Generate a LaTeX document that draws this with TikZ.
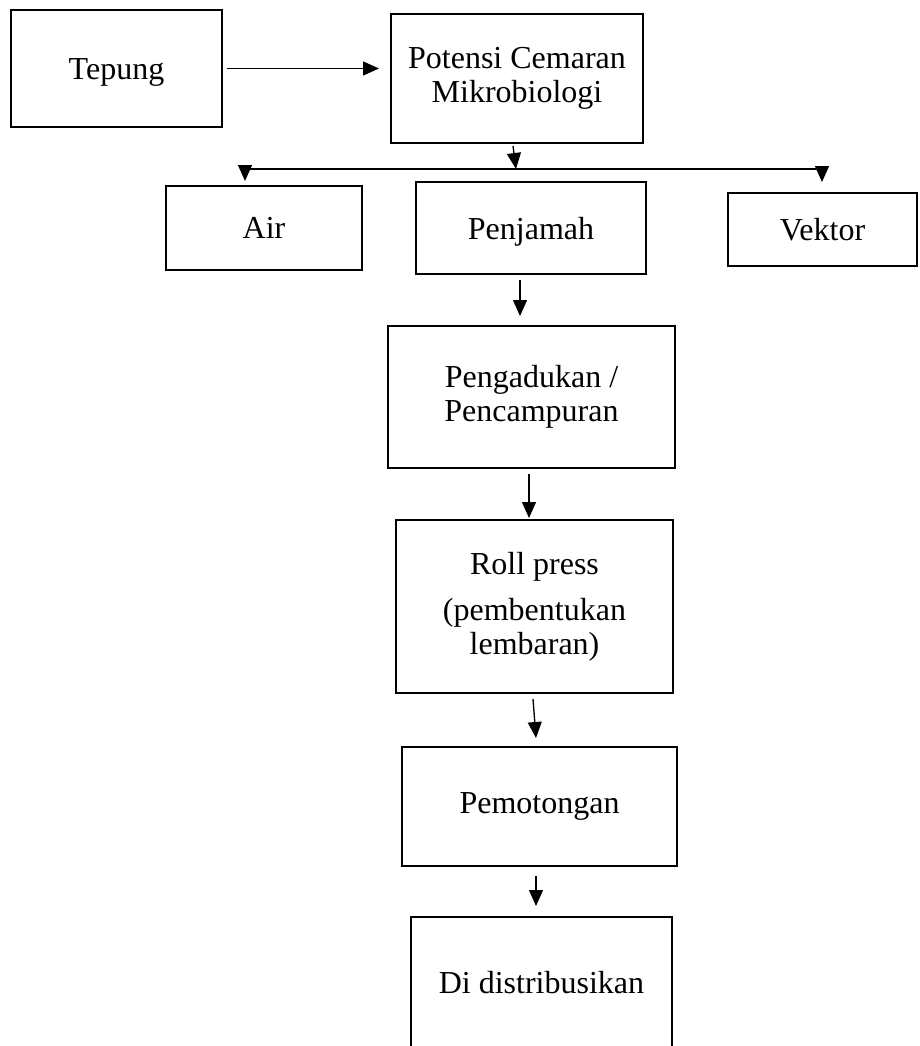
\documentclass[tikz,border=0pt]{standalone}
\usepackage{fontspec}
\setmainfont{Liberation Serif}
\usetikzlibrary{arrows.meta}
\newcommand{\lowertext}[1]{\raisebox{-4pt}[\height][\depth]{#1}}
\begin{document}
\begin{tikzpicture}[x=1pt,y=-1pt,
  box/.style={draw,line width=2pt,inner sep=0pt,align=center,
    font=\fontsize{32pt}{34pt}\selectfont},
  arr/.style={line width=1.3pt,-{Triangle[length=16pt,width=14pt]}},
  plain/.style={line width=1.3pt}]
\clip (0,0) rectangle (920,1046);
\fill[white] (0,0) rectangle (920,1046);
% boxes
\node[box,minimum width=211pt,minimum height=117pt] (tep) at (116.5,68.5) {\lowertext{Tepung}};
\node[box,minimum width=252pt,minimum height=129pt] (pot) at (517,78.5) {Potensi Cemaran\\Mikrobiologi};
\node[box,minimum width=196pt,minimum height=84pt] (air) at (264,228) {Air};
\node[box,minimum width=230pt,minimum height=92pt] (pen) at (531,228) {\lowertext{Penjamah}};
\node[box,minimum width=189pt,minimum height=73pt] (vek) at (822.5,229.5) {Vektor};
\node[box,minimum width=287pt,minimum height=142pt] (pad) at (531.5,397) {Pengadukan /\\Pencampuran};
\node[box,minimum width=277pt,minimum height=173pt] (rol) at (534.5,606.5) {Roll press\\[12pt](pembentukan\\lembaran)};
\node[box,minimum width=275pt,minimum height=119pt] (pem) at (539.5,806.5) {Pemotongan};
\node[box,minimum width=261pt,minimum height=132pt] (dis) at (541.5,983) {Di distribusikan};
% junction coordinates
\coordinate (jm) at (516,169);
\coordinate (jl) at (245,169);
\coordinate (jr) at (822,169);
\coordinate (al) at (245,181);
\coordinate (ar) at (822,182);
% connectors
\draw[arr] ([xshift=4pt]tep.east) -- ([xshift=-11pt]tep.east -| pot.west);
\draw[arr] ([xshift=-4pt,yshift=-2pt]pot.south) -- (jm);
\draw[plain] (jl) -- (jr);
\draw[arr] (jl) -- (al);
\draw[arr] (jr) -- (ar);
\draw[arr] ([xshift=-11pt,yshift=-5pt]pen.south) -- ([xshift=-11.5pt,yshift=9pt]pad.north);
\draw[arr] ([xshift=-2.5pt,yshift=-5pt]pad.south) -- ([xshift=-5.5pt,yshift=1pt]rol.north);
\draw[arr] ([xshift=-1.5pt,yshift=-5pt]rol.south) -- ([xshift=-3.5pt,yshift=8pt]pem.north);
\draw[arr] ([xshift=-3.5pt,yshift=-9pt]pem.south) -- ([xshift=-5.5pt,yshift=10pt]dis.north);
\end{tikzpicture}
\end{document}
